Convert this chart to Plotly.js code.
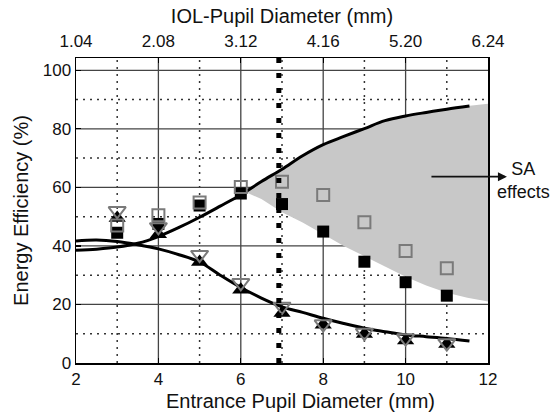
<!DOCTYPE html>
<html>
<head>
<meta charset="utf-8">
<script src="https://cdn.plot.ly/plotly-3.0.1.min.js"></script>
<style>html,body{margin:0;padding:0;background:#fff;}#chart{width:554px;height:412px;}</style>
</head>
<body>
<div id="chart"></div>
<script>
// ---- data ----
var pupilX = [3, 4, 5, 6, 7, 8, 9, 10, 11];
var filledSquares = [44.5, 47.5, 53.8, 57.9, 54.3, 44.9, 34.6, 27.6, 23.0];
var openSquares   = [47.0, 50.5, 54.8, 60.1, 61.9, 57.4, 48.1, 38.3, 32.4];
var filledTriangles = [49.5, 44.0, 34.5, 25.0, 17.1, 13.1, 9.9, 7.7, 6.5];
var openTriangles   = [52.0, 46.5, 37.0, 27.4, 19.3, 13.3, 10.4, 8.5, 6.8];

var curveX = [2, 2.5, 3, 3.5, 4, 4.5, 5, 5.5, 6, 6.5, 7, 7.5, 8, 8.5, 9, 9.5, 10, 10.5, 11, 11.55];
var risingCurve  = [38.5, 38.9, 39.6, 40.9, 43.2, 46.3, 49.8, 53.6, 57.5, 62.0, 66.2, 70.8, 74.6, 77.4, 80.1, 82.8, 84.4, 85.6, 86.7, 87.8];
var fallingCurve = [41.7, 42.0, 41.5, 40.4, 39.0, 37.0, 34.5, 30.0, 25.8, 22.2, 19.2, 17.3, 15.3, 13.5, 11.9, 10.7, 9.6, 9.0, 8.4, 7.5];

var shadeX     = [6.1, 6.5, 7, 7.5, 8, 8.5, 9, 9.5, 10, 10.5, 11, 11.5, 12];
var shadeUpper = [58.5, 62.0, 66.2, 70.8, 74.6, 77.4, 80.1, 82.8, 84.4, 85.6, 86.7, 87.8, 88.6];
var shadeLower = [58.5, 56.0, 51.5, 48.0, 44.0, 40.0, 36.5, 33.0, 29.5, 26.5, 24.0, 22.3, 21.0];

var topTickText = ['1.04', '2.08', '3.12', '4.16', '5.20', '6.24'];
var majorGridX = [4, 6, 8, 10];
var majorGridY = [20, 40, 60, 80, 100];
var minorGridX = [3, 5, 7, 9, 11];
var minorGridY = [10, 30, 50, 70, 90];
var iolPupilLimit = 3.6;   // mm, dotted vertical line (IOL-pupil scale)
var iolRatio = 0.52;       // IOL pupil / entrance pupil

// ---- build ----
var topTickVals = topTickText.map(function (t) { return parseFloat(t); });

var path = 'M ' + shadeX[0] + ',' + shadeUpper[0];
for (var i = 1; i < shadeX.length; i++) path += ' L ' + shadeX[i] + ',' + shadeUpper[i];
for (var j = shadeX.length - 1; j >= 0; j--) path += ' L ' + shadeX[j] + ',' + shadeLower[j];
path += ' Z';

var grayMk = '#7a7a7a';
var traces = [
  {x: pupilX, y: filledSquares, mode: 'markers', type: 'scatter',
   marker: {symbol: 'square', size: 12, color: '#000'}},
  {x: pupilX, y: filledTriangles, mode: 'markers', type: 'scatter',
   marker: {symbol: 'triangle-up', size: 15, color: '#000'}},
  {x: curveX, y: risingCurve, mode: 'lines', type: 'scatter',
   line: {color: '#000', width: 3, shape: 'spline'}},
  {x: curveX, y: fallingCurve, mode: 'lines', type: 'scatter',
   line: {color: '#000', width: 3, shape: 'spline'}},
  {x: pupilX, y: openSquares, mode: 'markers', type: 'scatter',
   marker: {symbol: 'square-open', size: 12, color: grayMk, line: {width: 2, color: grayMk}}},
  {x: pupilX, y: openTriangles, mode: 'markers', type: 'scatter',
   marker: {symbol: 'triangle-down-open', size: 15, color: grayMk, line: {width: 2, color: grayMk}}},
  {x: [topTickVals[0], topTickVals[topTickVals.length - 1]], y: [null, null],
   xaxis: 'x2', yaxis: 'y', mode: 'markers', type: 'scatter', hoverinfo: 'skip'}
];

var FONT = 'Liberation Sans, Arial, sans-serif';
var tickFont = {family: FONT, size: 17, color: '#111'};
var titleFont = {family: FONT, size: 20, color: '#111'};

var shapes = [
  {type: 'path', path: path, xref: 'x', yref: 'y', layer: 'below',
   fillcolor: '#c8c8c8', line: {width: 0}}
];
function vline(v, dash, color, width) {
  return {type: 'line', xref: 'x', yref: 'paper', x0: v, x1: v, y0: 0, y1: 1, layer: 'below',
    line: {color: color, width: width, dash: dash}};
}
function hline(v, dash, color, width) {
  return {type: 'line', xref: 'paper', yref: 'y', x0: 0, x1: 1, y0: v, y1: v, layer: 'below',
    line: {color: color, width: width, dash: dash}};
}
minorGridX.forEach(function (v) { shapes.push(vline(v, '2px,5px', '#333', 1.5)); });
minorGridY.forEach(function (v) { shapes.push(hline(v, '2px,5px', '#333', 1.5)); });
majorGridX.forEach(function (v) { shapes.push(vline(v, 'solid', '#444', 1.3)); });
majorGridY.forEach(function (v) { shapes.push(hline(v, 'solid', '#444', 1.3)); });
shapes.push({type: 'line', xref: 'x', yref: 'paper',
  x0: iolPupilLimit / iolRatio, x1: iolPupilLimit / iolRatio, y0: 0, y1: 1,
  layer: 'above', line: {color: '#000', width: 5, dash: '5px,10px'}});

var layout = {
  width: 554, height: 412,
  margin: {l: 76, r: 66, t: 58, b: 49},
  paper_bgcolor: '#fff', plot_bgcolor: '#fff',
  showlegend: false,
  font: {family: FONT, color: '#111'},
  xaxis: {
    range: [2, 12], tick0: 2, dtick: 2, zeroline: false, showgrid: false,
    showline: true, linecolor: '#000', linewidth: 1.5, mirror: true,
    ticks: 'inside', ticklen: 5, tickcolor: '#000', tickwidth: 1.3,
    tickfont: tickFont
  },
  xaxis2: {
    overlaying: 'x', side: 'top', anchor: 'y',
    range: [topTickVals[0], topTickVals[topTickVals.length - 1]],
    tickvals: topTickVals, ticktext: topTickText,
    showgrid: false, zeroline: false,
    showline: true, linecolor: '#000', linewidth: 1.5,
    ticks: 'inside', ticklen: 5, tickcolor: '#000', ticklabelstandoff: 3,
    tickfont: tickFont,
    title: {text: 'IOL-Pupil Diameter (mm)', font: titleFont, standoff: 2}
  },
  yaxis: {
    range: [0, 104.2], tick0: 0, dtick: 20, zeroline: false, showgrid: false,
    showline: true, linecolor: '#000', linewidth: 1.5, mirror: true,
    ticks: 'inside', ticklen: 5, tickcolor: '#000', tickwidth: 1.3,
    tickfont: tickFont,
    title: {text: 'Energy Efficiency (%)', font: titleFont, standoff: 8}
  },
  shapes: shapes,
  annotations: [
    {xref: 'paper', yref: 'paper', x: 0.544, y: -0.125, xanchor: 'center', yanchor: 'middle',
     showarrow: false, text: 'Entrance Pupil Diameter (mm)', font: titleFont},
    {xref: 'paper', yref: 'paper', x: 1.046, y: 0.611, ax: -77, ay: 0,
     showarrow: true, arrowhead: 2, arrowsize: 1, arrowwidth: 1.8, arrowcolor: '#111', text: ''},
    {xref: 'paper', yref: 'paper', x: 1.087, y: 0.598, xanchor: 'center', yanchor: 'middle',
     showarrow: false, text: 'SA<br>effects', align: 'center',
     font: {family: FONT, size: 18, color: '#111'}}
  ]
};

Plotly.newPlot('chart', traces, layout, {displayModeBar: false, staticPlot: true});
</script>
</body>
</html>
